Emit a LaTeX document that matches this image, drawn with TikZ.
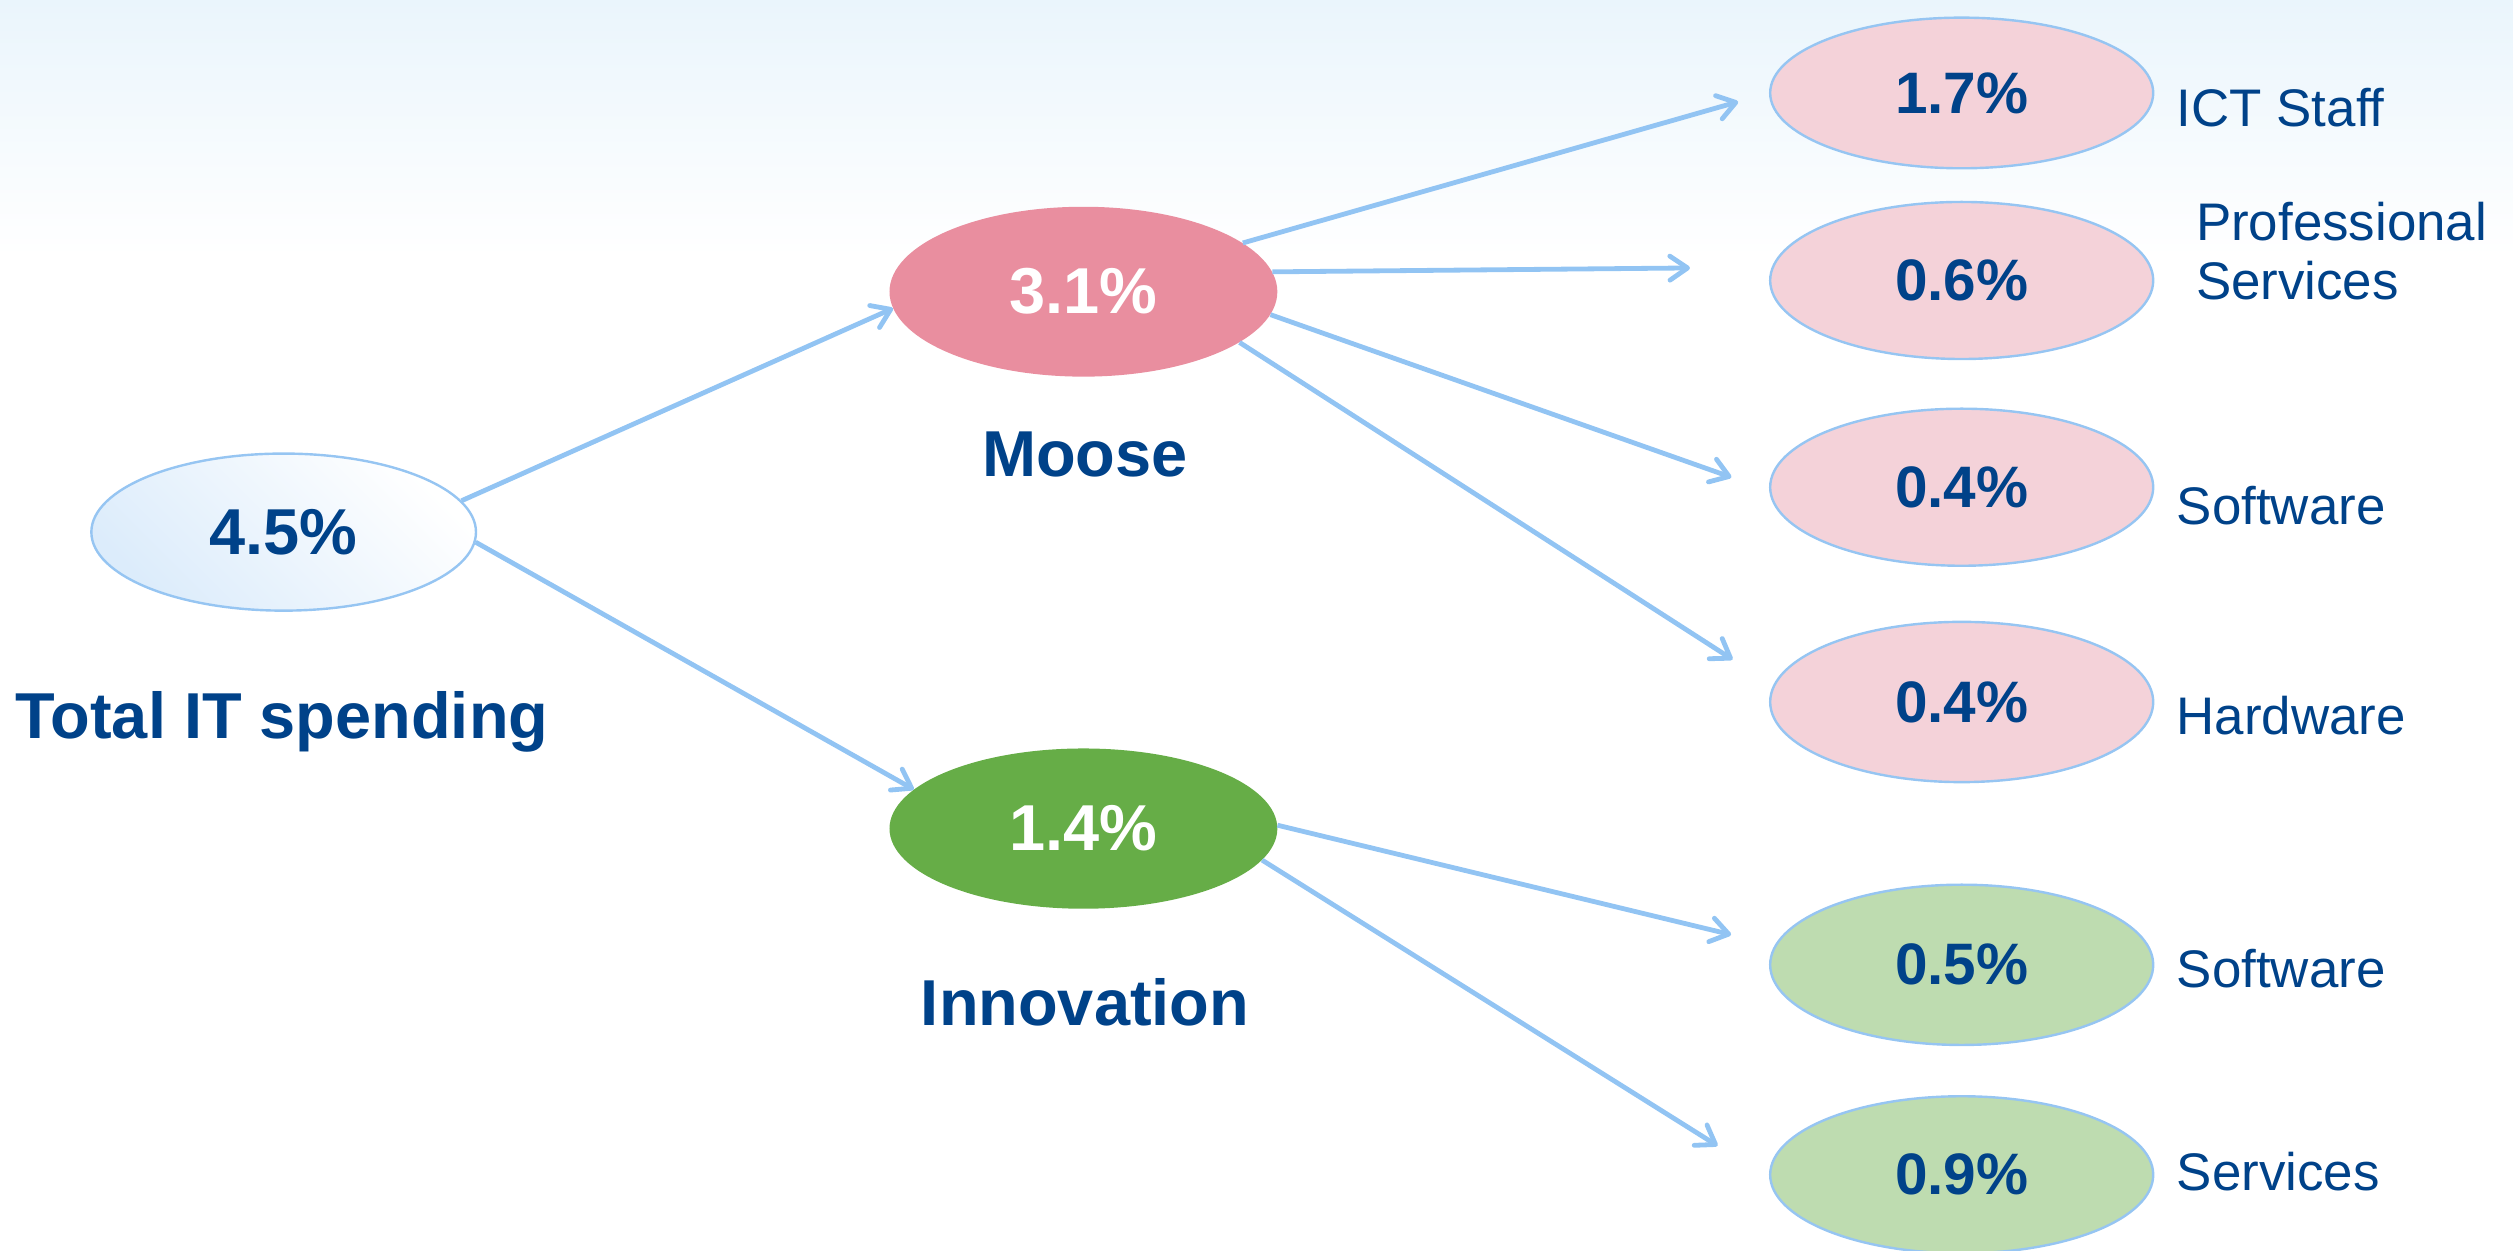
\documentclass[tikz,border=0pt]{standalone}
\usepackage{fontspec}
\setmainfont{Liberation Sans}
\usetikzlibrary{shapes.geometric,arrows.meta}
\definecolor{txtblue}{RGB}{0,66,137}
\definecolor{arrowblue}{RGB}{146,196,243}
\definecolor{edgeblue}{RGB}{150,197,242}
\definecolor{moosefill}{RGB}{233,142,159}
\definecolor{innofill}{RGB}{102,173,71}
\definecolor{pinkfill}{RGB}{244,210,217}
\definecolor{greenfill}{RGB}{190,220,176}
\definecolor{totfill}{RGB}{220,236,251}
\definecolor{bgtop}{RGB}{234,245,252}
\begin{document}
\begin{tikzpicture}[x=1pt,y=-1pt,
  big/.style={font=\fontsize{40.5}{44}\selectfont\bfseries},
  val/.style={font=\fontsize{36.5}{40}\selectfont\bfseries, text=txtblue},
  lab/.style={font=\fontsize{33}{37}\selectfont, text=txtblue, anchor=base west, inner sep=0pt},
  oval/.style={ellipse, inner sep=0pt, minimum width=239pt, minimum height=97pt},
  pinkoval/.style={oval, fill=pinkfill, draw=edgeblue, line width=1.5pt, val},
  greenoval/.style={oval, fill=greenfill, draw=edgeblue, line width=1.5pt, val},
  conn/.style={draw=arrowblue, line width=3pt, -{Straight Barb[round,length=11pt,width=15pt]}}
]
\useasboundingbox (0,0) rectangle (1568,780);
\shade[top color=bgtop, bottom color=white] (0,0) rectangle (1568,160);

% left
\node[oval, minimum width=240pt, minimum height=98pt, draw=edgeblue, line width=1.5pt,
      bottom color=totfill, top color=white, shading angle=-45, big, text=txtblue] (tot) at (177,332) {4.5\%};
\node[big, text=txtblue, anchor=base, inner sep=0pt] (totlab) at (176,461) {Total IT spending};

% middle
\node[oval, minimum width=242pt, minimum height=106pt, fill=moosefill, big, text=white] (mo) at (676,182) {3.1\%};
\node[big, text=txtblue, anchor=base, inner sep=0pt] (molab) at (677,297) {Moose};
\node[oval, minimum width=242pt, minimum height=100pt, fill=innofill, big, text=white] (inn) at (676,517) {1.4\%};
\node[big, text=txtblue, anchor=base, inner sep=0pt] (innlab) at (677,640) {Innovation};

% right
\node[pinkoval, minimum height=94pt] (r1) at (1224,58) {1.7\%};
\node[pinkoval, minimum height=98pt] (r2) at (1224,175) {0.6\%};
\node[pinkoval, minimum height=98pt] (r3) at (1224,304) {0.4\%};
\node[pinkoval, minimum height=100pt] (r4) at (1224,438) {0.4\%};
\node[greenoval, minimum height=100pt] (r5) at (1224,602) {0.5\%};
\node[greenoval, minimum height=98pt] (r6) at (1224,733) {0.9\%};

\node[lab] (l1) at (1358,79) {ICT Staff};
\node[lab] (l2a) at (1370,150) {Professional};
\node[lab] (l2b) at (1370,187) {Services};
\node[lab] (l3) at (1358,327) {Software};
\node[lab] (l4) at (1358,458) {Hardware};
\node[lab] (l5) at (1358,616) {Software};
\node[lab] (l6) at (1358,743) {Services};

% connectors
\draw[conn] (tot.10) -- (mo.185);
\draw[conn] (tot.-3) -- (inn.167);
\draw[conn, shorten >=20pt] (mo.17) -- (r1.180);
\draw[conn, shorten >=51pt] (mo.6) -- (r2.176);
\draw[conn, shorten >=25pt] (mo.-7) -- (r3.181);
\draw[conn, shorten >=30pt] (mo.-18) -- (r4.175);
\draw[conn, shorten >=28pt] (inn.1) -- (r5.174);
\draw[conn, shorten >=38pt] (inn.-10) -- (r6.181);
\end{tikzpicture}
\end{document}
